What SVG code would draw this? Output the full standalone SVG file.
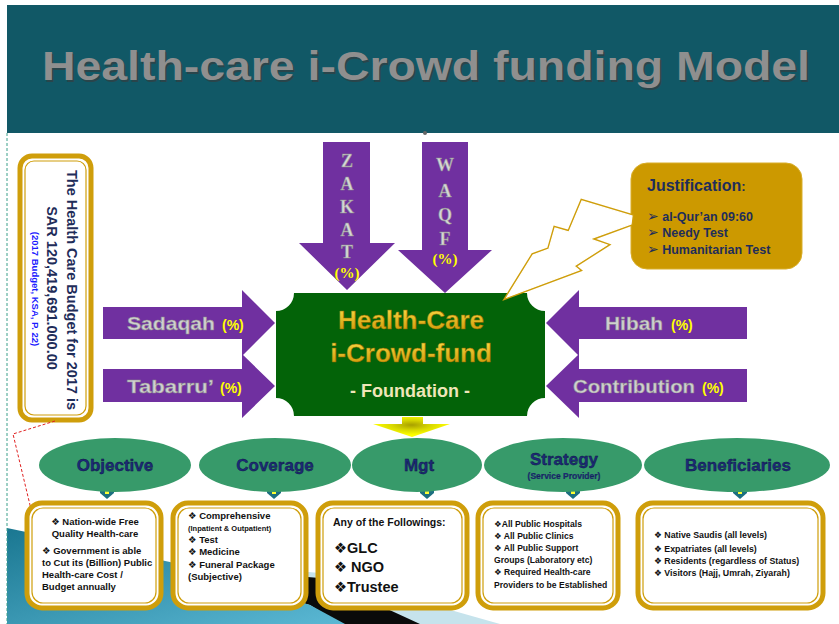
<svg xmlns="http://www.w3.org/2000/svg" width="839" height="624" viewBox="0 0 839 624">
<defs>
<style>
.pur{fill:#7030a0}
.silver{font-family:"Liberation Sans",Arial,sans-serif;font-weight:bold;fill:#d0d0d0;stroke:#8a8a8a;stroke-width:0.5;font-size:19px}
.serif{font-family:"Liberation Serif","Times New Roman",serif;font-weight:bold;fill:#d6d6d6;stroke:#8a8a8a;stroke-width:0.5;font-size:18px;text-anchor:middle}
.pct{font-family:"Liberation Sans",Arial,sans-serif;font-weight:bold;fill:#ffff00;font-size:14px}
.pcts{font-family:"Liberation Serif",serif;font-weight:bold;fill:#ffff00;font-size:15px;text-anchor:middle}
.ell{fill:#379a6a}
.elbl{font-family:"Liberation Sans",Arial,sans-serif;font-weight:bold;fill:#1c2a78;stroke:#0d1440;stroke-width:0.4;font-size:17px;text-anchor:middle}
.boxo{fill:#fff;stroke:#cf9e0b;stroke-width:5}
.boxi{fill:none;stroke:#cf9e0b;stroke-width:1.2}
.bt{font-family:"Liberation Sans","DejaVu Sans",Arial,sans-serif;font-weight:bold;fill:#111;font-size:9.5px}
.tab{fill:#1d6f80}
.tabi{fill:#ffff33}
</style>
<linearGradient id="gold" x1="0" y1="0" x2="0" y2="1">
<stop offset="0" stop-color="#ffe14a"/><stop offset="1" stop-color="#c89000"/>
</linearGradient>
<linearGradient id="tealg" x1="0" y1="0" x2="1" y2="1">
<stop offset="0" stop-color="#1a7791"/><stop offset="1" stop-color="#5bb8d4"/>
</linearGradient>
<radialGradient id="yel" cx="0.5" cy="0.4" r="0.5">
<stop offset="0" stop-color="#a8a000"/><stop offset="0.5" stop-color="#d8d800"/><stop offset="1" stop-color="#ffff00"/>
</radialGradient>
<marker id="ar" viewBox="0 0 10 10" refX="9" refY="5" markerWidth="8" markerHeight="8" orient="auto">
<path d="M1,1 L9,5 L1,9" fill="none" stroke="#e02020" stroke-width="1.5"/>
</marker>
</defs>
<rect width="839" height="624" fill="#fff"/>
<!-- bottom background swoosh -->
<polygon points="170,560 320,573 500,624 360,624" fill="#c6e3ec"/>
<polygon points="170,566 320,578 420,624 340,624 310,605" fill="#0a0a0a"/>
<polygon points="7,528 170,562 310,605 345,624 7,624" fill="url(#tealg)"/>
<line x1="7" y1="133" x2="7" y2="624" stroke="#3aa08a" stroke-width="1" stroke-dasharray="3,2"/>

<g id="header">
<rect x="7" y="5" width="832" height="128" fill="#115866"/>
<text x="426" y="80" text-anchor="middle" font-family="'Liberation Sans',Arial,sans-serif" font-weight="bold" font-size="40" fill="#3a3a3a" opacity="0.6" textLength="768" lengthAdjust="spacingAndGlyphs" transform="translate(1.5,1.5)">Health-care i-Crowd funding Model</text>
<text x="426" y="80" text-anchor="middle" font-family="'Liberation Sans',Arial,sans-serif" font-weight="bold" font-size="40" fill="#8f8f8f" textLength="768" lengthAdjust="spacingAndGlyphs">Health-care i-Crowd funding Model</text>
<circle cx="425" cy="133" r="2" fill="#666"/>
</g>

<g id="budget">
<rect x="20" y="156" width="71" height="264" rx="12" class="boxo"/>
<rect x="25" y="161" width="61" height="254" rx="9" class="boxi"/>
<text transform="translate(67,290) rotate(90)" text-anchor="middle" font-family="'Liberation Sans',Arial,sans-serif" font-weight="bold" font-size="14.5" fill="#1f2d5a">The Health Care Budget for 2017 is</text>
<text transform="translate(47,288) rotate(90)" text-anchor="middle" font-family="'Liberation Sans',Arial,sans-serif" font-weight="bold" font-size="14.5" fill="#1f2d5a">SAR 120,419,691.000.00</text>
<text transform="translate(32,289) rotate(90)" text-anchor="middle" font-family="'Liberation Sans',Arial,sans-serif" font-weight="bold" font-size="9.5" fill="#1a1aff">(2017 Budget, KSA, P. 22)</text>
</g>

<g id="zakat">
<polygon class="pur" points="323,142 370,142 370,243 395,243 347,290 299,243 323,243"/>
<text class="serif" x="347" y="167">Z</text>
<text class="serif" x="347" y="190">A</text>
<text class="serif" x="347" y="213">K</text>
<text class="serif" x="347" y="236">A</text>
<text class="serif" x="347" y="258">T</text>
<text class="pcts" x="347" y="278">(%)</text>
</g>

<g id="waqf">
<polygon class="pur" points="422,142 468,142 468,250 492,250 445,293 398,250 422,250"/>
<text class="serif" x="445" y="171">W</text>
<text class="serif" x="445" y="197">A</text>
<text class="serif" x="445" y="221">Q</text>
<text class="serif" x="445" y="245">F</text>
<text class="pcts" x="445" y="264">(%)</text>
</g>

<g id="justification">
<rect x="631" y="163" width="171" height="106" rx="16" fill="#cc9900" stroke="#d9ae2a" stroke-width="1"/>
<text x="647" y="191" font-family="'Liberation Sans',Arial,sans-serif" font-weight="bold" font-size="16" fill="#1f2d5a">Justification<tspan font-size="13">:</tspan></text>
<g font-family="'Liberation Sans','DejaVu Sans',Arial,sans-serif" font-weight="bold" font-size="12.5" fill="#1f2d5a">
<text x="647" y="221"><tspan font-size="14">➢</tspan> al-Qur’an 09:60</text>
<text x="647" y="237"><tspan font-size="14">➢</tspan> Needy Test</text>
<text x="647" y="254"><tspan font-size="14">➢</tspan> Humanitarian Test</text>
</g>
</g>

<g id="sadaqah">
<polygon class="pur" points="103,307 242,307 242,290 275,323 242,356 242,339 103,339"/>
<text class="silver" x="127" y="330" textLength="88" lengthAdjust="spacingAndGlyphs">Sadaqah</text>
<text class="pct" x="222" y="330">(%)</text>
</g>
<g id="tabarru">
<polygon class="pur" points="103,369 242,369 242,354 275,386 242,418 242,402 103,402"/>
<text class="silver" x="127" y="393" textLength="87" lengthAdjust="spacingAndGlyphs">Tabarru’</text>
<text class="pct" x="220" y="393">(%)</text>
</g>
<g id="hibah">
<polygon class="pur" points="747,307 579,307 579,290 546,323 579,356 579,339 747,339"/>
<text class="silver" x="605" y="330" textLength="58" lengthAdjust="spacingAndGlyphs">Hibah</text>
<text class="pct" x="671" y="330">(%)</text>
</g>
<g id="contribution">
<polygon class="pur" points="747,369 579,369 579,354 546,386 579,418 579,402 747,402"/>
<text class="silver" x="573" y="393" textLength="122" lengthAdjust="spacingAndGlyphs">Contribution</text>
<text class="pct" x="702" y="393">(%)</text>
</g>

<g id="center">
<path d="M294,293 H527 A18,18 0 0 0 545,311 V398 A18,18 0 0 0 527,416 H294 A18,18 0 0 0 276,398 V311 A18,18 0 0 0 294,293 Z" fill="#036308"/>
<g font-family="'Liberation Sans',Arial,sans-serif" font-weight="bold" text-anchor="middle">
<text x="411" y="329" font-size="26" fill="url(#gold)" stroke="#8a6400" stroke-width="0.4">Health-Care</text>
<text x="411" y="362" font-size="26" fill="url(#gold)" stroke="#8a6400" stroke-width="0.4">i-Crowd-fund</text>
<text x="410" y="397" font-size="18" fill="#efe6b8">- Foundation -</text>
</g>
</g>

<g id="connectors">
<path d="M507,297 L533,255 L549,249 L555,228 L569,232 L582,201 L632,216 L631,224 L590,239 L607,245 L574,266 L579,270 Z" fill="#fff" stroke="#cf9e0b" stroke-width="4" stroke-linejoin="miter"/>
<path d="M507,297 L533,255 L549,249 L555,228 L569,232 L582,201 L632,216 L631,224 L590,239 L607,245 L574,266 L579,270 Z" fill="#fff" stroke="#fff" stroke-width="1.2"/>
<polygon points="402,417 423,417 423,424 450,424 412,437 373,424 402,424" fill="url(#yel)"/>
<path d="M55,421 L13,434 L41,551" fill="none" stroke="#e02020" stroke-width="1" stroke-dasharray="3,2" marker-end="url(#ar)"/>
<g>
<path class="tab" d="M100,487 H114 V493 L107,499 L100,493 Z"/><rect class="tabi" x="105" y="489" width="4" height="5"/>
<path class="tab" d="M267,487 H281 V493 L274,499 L267,493 Z"/><rect class="tabi" x="272" y="489" width="4" height="5"/>
<path class="tab" d="M420,487 H434 V493 L427,499 L420,493 Z"/><rect class="tabi" x="425" y="489" width="4" height="5"/>
<path class="tab" d="M566,487 H580 V493 L573,499 L566,493 Z"/><rect class="tabi" x="571" y="489" width="4" height="5"/>
<path class="tab" d="M733,487 H747 V493 L740,499 L733,493 Z"/><rect class="tabi" x="738" y="489" width="4" height="5"/>
</g>
</g>

<g id="objective">
<ellipse class="ell" cx="115" cy="465" rx="76" ry="27"/>
<text class="elbl" x="115" y="471">Objective</text>
</g>
<g id="coverage">
<ellipse class="ell" cx="275" cy="465" rx="76" ry="27"/>
<text class="elbl" x="275" y="471">Coverage</text>
</g>
<g id="mgt">
<ellipse class="ell" cx="417" cy="465" rx="65" ry="27"/>
<text class="elbl" x="419" y="471">Mgt</text>
</g>
<g id="strategy">
<ellipse class="ell" cx="563" cy="465" rx="79" ry="27"/>
<text class="elbl" x="564" y="465">Strategy</text>
<text class="elbl" x="564" y="479" style="font-size:8.5px;stroke-width:0.2">(Service Provider)</text>
</g>
<g id="beneficiaries">
<ellipse class="ell" cx="737" cy="465" rx="93" ry="27"/>
<text class="elbl" x="738" y="471">Beneficiaries</text>
</g>

<g id="box-objective">
<rect x="27" y="503" width="134" height="105" rx="15" class="boxo"/>
<rect x="32" y="508" width="124" height="95" rx="11" class="boxi"/>
<text class="bt" x="95" y="525" text-anchor="middle">❖ Nation-wide Free</text>
<text class="bt" x="95" y="537" text-anchor="middle">Quality Health-care</text>
<text class="bt" x="42" y="554">❖  Government is able</text>
<text class="bt" x="42" y="566">to Cut its (Billion) Public</text>
<text class="bt" x="42" y="578">Health-care Cost /</text>
<text class="bt" x="42" y="590">Budget  annually</text>
</g>
<g id="box-coverage">
<rect x="173" y="503" width="133" height="105" rx="15" class="boxo"/>
<rect x="178" y="508" width="123" height="95" rx="11" class="boxi"/>
<text class="bt" x="188" y="519">❖   Comprehensive</text>
<text class="bt" x="188" y="531" style="font-size:7.5px">(Inpatient &amp; Outpatient)</text>
<text class="bt" x="188" y="543">❖  Test</text>
<text class="bt" x="188" y="555">❖   Medicine</text>
<text class="bt" x="188" y="568">❖ Funeral Package</text>
<text class="bt" x="188" y="580">(Subjective)</text>
</g>
<g id="box-mgt">
<rect x="318" y="503" width="149" height="105" rx="15" class="boxo"/>
<rect x="323" y="508" width="139" height="95" rx="11" class="boxi"/>
<text class="bt" x="333" y="526" style="font-size:10.5px">Any of the Followings:</text>
<text class="bt" x="334" y="553" style="font-size:14.5px">❖GLC</text>
<text class="bt" x="334" y="572" style="font-size:14.5px">❖ NGO</text>
<text class="bt" x="334" y="592" style="font-size:14.5px">❖Trustee</text>
</g>
<g id="box-strategy">
<rect x="478" y="503" width="140" height="105" rx="15" class="boxo"/>
<rect x="483" y="508" width="130" height="95" rx="11" class="boxi"/>
<text class="bt" x="494" y="527" style="font-size:8.6px">❖All Public Hospitals</text>
<text class="bt" x="494" y="539" style="font-size:8.6px">❖ All Public Clinics</text>
<text class="bt" x="494" y="551" style="font-size:8.6px">❖ All Public Support</text>
<text class="bt" x="494" y="563" style="font-size:8.6px">Groups (Laboratory etc)</text>
<text class="bt" x="494" y="575" style="font-size:8.6px">❖  Required Health-care</text>
<text class="bt" x="494" y="588" style="font-size:8.6px">Providers to be Established</text>
</g>
<g id="box-beneficiaries">
<rect x="638" y="503" width="185" height="105" rx="15" class="boxo"/>
<rect x="643" y="508" width="175" height="95" rx="11" class="boxi"/>
<text class="bt" x="654" y="538" style="font-size:8.8px">❖  Native Saudis (all levels)</text>
<text class="bt" x="654" y="552" style="font-size:8.8px">❖ Expatriates (all levels)</text>
<text class="bt" x="654" y="564" style="font-size:8.8px">❖ Residents (regardless of Status)</text>
<text class="bt" x="654" y="576" style="font-size:8.8px">❖ Visitors (Hajj, Umrah, Ziyarah)</text>
</g>
</svg>
